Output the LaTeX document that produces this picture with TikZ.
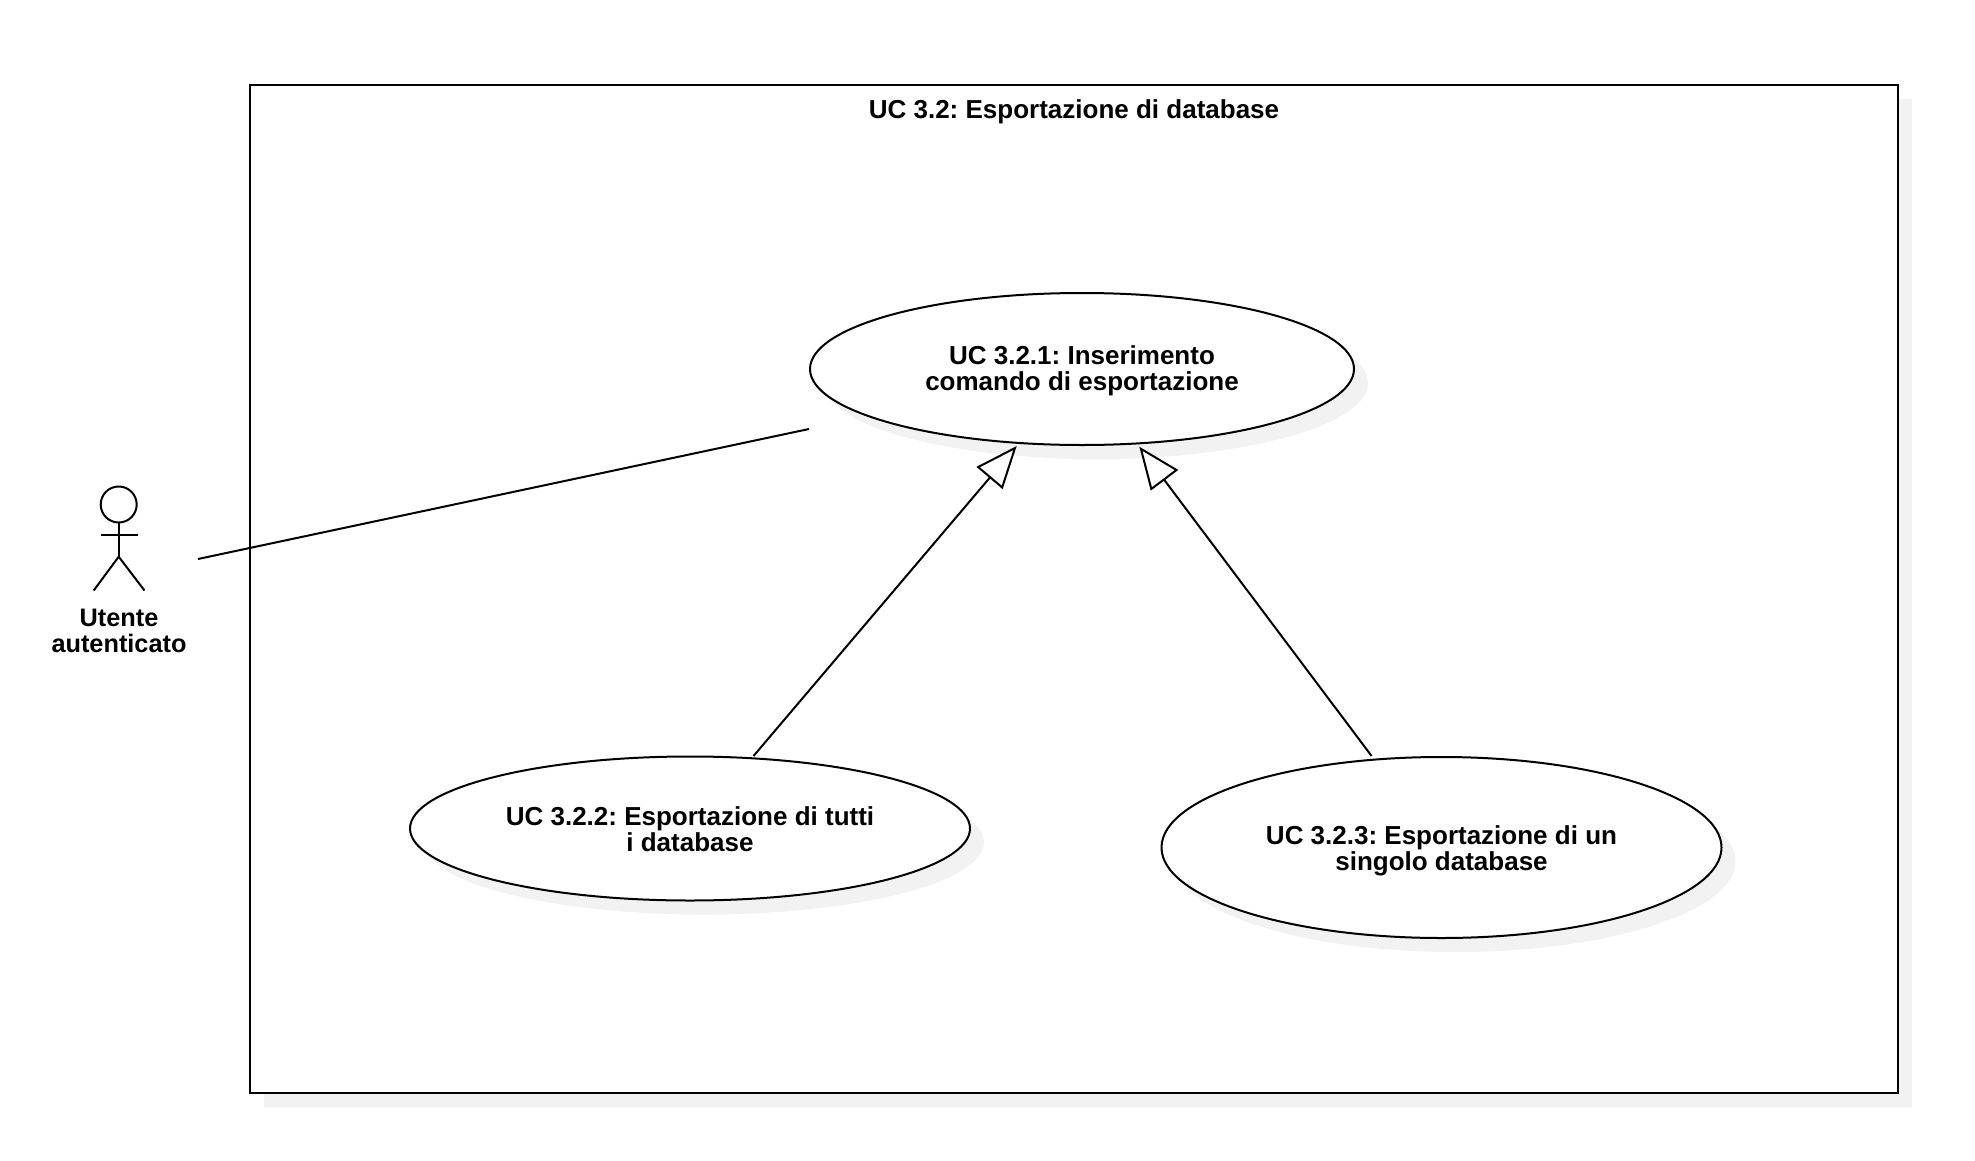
\documentclass[tikz,border=0pt]{standalone}
\usepackage{fontspec}
\setmainfont{Liberation Sans}
\usepackage{xcolor}
\usetikzlibrary{arrows.meta, shadows, shapes.geometric}

\definecolor{shadowgray}{HTML}{F2F2F2}

\begin{document}
\frenchspacing
\begin{tikzpicture}[
        x=0.5pt, y=-0.5pt,
        line width=1pt,
        label_text/.style={font=\fontsize{13}{13}\selectfont\bfseries, align=center},
        soft_shadow/.style={drop shadow={shadow xshift=7pt, shadow yshift=-7pt, fill=shadowgray, opacity=1}},
        usecase/.style={ellipse, draw, fill=white, inner sep=0pt, outer sep=0pt, soft_shadow},
        extends/.style={-{Triangle[open, fill=white, length=21pt, width=17pt]}}
    ]
    \useasboundingbox (0,0) rectangle (1975,1161);

    % System boundary
    \node[rectangle, draw, fill=white, minimum width=824pt, minimum height=504pt, inner sep=0pt, outer sep=0pt, soft_shadow] (system) at (1074,589) {};
    \node[label_text] (system_title) at (1074,112) {UC 3.2: Esportazione di database};

    % Actor
    \node[circle, draw, minimum size=18pt, inner sep=0pt, outer sep=0pt] (actor_head) at (118.7,504.5) {};
    \coordinate (actor_hip) at (118.7,556.7);
    \coordinate (actor_arm_l) at (100.7,534.7);
    \coordinate (actor_arm_r) at (137.7,534.7);
    \coordinate (actor_foot_l) at (93.7,590.5);
    \coordinate (actor_foot_r) at (144.5,590.5);
    \draw (actor_head.south) -- (actor_hip);
    \draw (actor_arm_l) -- (actor_arm_r);
    \draw (actor_foot_l) -- (actor_hip) -- (actor_foot_r);
    \node[label_text, font=\fontsize{12.65}{13}\selectfont\bfseries] (actor_label) at (119,631) {Utente\\autenticato};

    % Use cases
    \node[usecase, minimum width=272pt, minimum height=76pt] (uc_insert) at (1082,369) {};
    \node[label_text] (uc_insert_label) at (1082,371) {UC 3.2.1: Inserimento\\comando di esportazione};
    \node[usecase, minimum width=280pt, minimum height=72pt] (uc_all) at (690,828.5) {};
    \node[label_text] (uc_all_label) at (690,829) {UC 3.2.2: Esportazione di tutti\\i database};
    \node[usecase, minimum width=280pt, minimum height=90.5pt] (uc_single) at (1441.5,847.5) {};
    \node[label_text] (uc_single_label) at (1441.5,850.5) {UC 3.2.3: Esportazione di un\\singolo database};

    % Connectors
    \coordinate (actor_link) at (198,559);
    \coordinate (insert_link) at (809,429);
    \coordinate (insert_tip_all) at (1016.7,446);
    \coordinate (insert_tip_single) at (1139.3,446.7);
    \coordinate (all_link) at (753.5,756);
    \coordinate (single_link) at (1371.6,756);
    \draw (actor_link) -- (insert_link);
    \draw[extends] (all_link) -- (insert_tip_all);
    \draw[extends] (single_link) -- (insert_tip_single);
\end{tikzpicture}
\end{document}
